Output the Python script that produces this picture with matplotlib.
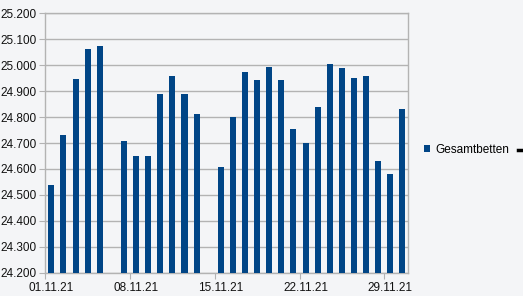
import numpy as np
import matplotlib.pyplot as plt
from matplotlib.ticker import FuncFormatter

# day of month (November 2021) and total beds; 06.11 and 14.11 have no value
days = [1, 2, 3, 4, 5, 7, 8, 9, 10, 11, 12, 13, 15, 16, 17, 18, 19, 20,
        21, 22, 23, 24, 25, 26, 27, 28, 29, 30]
beds = [24538, 24731, 24946, 25062, 25075, 24707, 24651, 24651, 24888,
        24957, 24888, 24812, 24606, 24799, 24974, 24942, 24993, 24942,
        24754, 24701, 24840, 25006, 24989, 24949, 24959, 24629, 24579, 24831]
tick_days = [1, 8, 15, 22, 29]
tick_labels = ['01.11.21', '08.11.21', '15.11.21', '22.11.21', '29.11.21']
series_name = 'Gesamtbetten'

plt.rcParams['font.family'] = ['Liberation Sans', 'DejaVu Sans']

bg = '#f4f5f7'
grid = '#b3b3b3'
blue = '#004586'

fig = plt.figure(figsize=(5.23, 2.96), dpi=100, facecolor=bg)
ax = fig.add_axes([0.0866, 0.0787, 0.6944, 0.8763], facecolor=bg)

x = np.array(days) - 1 + 0.5
ax.bar(x, beds, width=0.5, color=blue, label=series_name, zorder=3)

ax.set_xlim(0, 30)
ax.set_ylim(24200, 25200)
ax.set_yticks(np.arange(24200, 25201, 100))
ax.yaxis.set_major_formatter(FuncFormatter(lambda v, p: f'{v:,.0f}'.replace(',', '.')))
ax.grid(axis='y', color=grid, linewidth=1, zorder=0)

# tick marks on the day boundary, labels centred on the bar
ax.set_xticks([d - 1 for d in tick_days])
ax.set_xticklabels([])
ax.set_xticks([d - 0.5 for d in tick_days], minor=True)
ax.set_xticklabels(tick_labels, minor=True)
ax.tick_params(axis='x', which='major', length=4, color=grid)
ax.tick_params(axis='x', which='minor', length=0, pad=7, labelsize=8.5, labelcolor='#111111')
ax.tick_params(axis='y', length=4, color=grid, pad=2, labelsize=8.5, labelcolor='#111111')

for s in ax.spines.values():
    s.set_color(grid)
    s.set_linewidth(1)

ax.legend(loc='center left', bbox_to_anchor=(424 / 523, 1 - 150 / 296),
          bbox_transform=fig.transFigure, frameon=False, fontsize=8.5,
          handlelength=0.55, handleheight=0.55, handletextpad=0.4, borderpad=0,
          borderaxespad=0)

# small dark mark at the right edge of the screenshot
fig.add_artist(plt.Line2D([518 / 523, 1.0], [1 - 149.5 / 296] * 2,
                          transform=fig.transFigure, color='black', linewidth=2.5))

fig.savefig('out.png', dpi=100, facecolor=bg)
